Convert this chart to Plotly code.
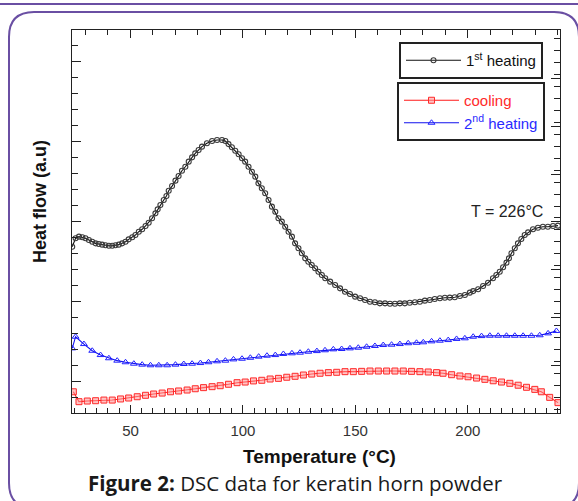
import plotly.graph_objects as go

# ---- data ----
t_heat1 = [24.1, 25.6, 27.1, 28.6, 30.0, 31.5, 33.0, 34.5, 35.9, 37.4, 38.9, 40.4, 41.9, 43.3, 44.8,
           46.3, 47.8, 49.2, 50.8, 52.2, 53.7, 55.2, 56.7, 58.1, 59.6, 61.1, 62.1, 63.3, 64.8, 66.0,
           67.0, 68.5, 70.0, 71.4, 72.9, 74.4, 75.9, 77.4, 78.8, 80.3, 81.8, 84.0, 86.3, 88.5, 90.7,
           92.2, 93.6, 95.1, 96.6, 98.1, 99.6, 101.0, 102.5, 104.0, 105.5, 106.9, 108.4, 109.9,
           111.4, 112.9, 114.4, 115.8, 117.3, 118.8, 120.3, 121.8, 123.2, 124.7, 126.2, 127.7,
           129.1, 130.6, 132.1, 133.6, 135.1, 136.6, 138.8, 141.0, 143.2, 145.4, 147.6, 149.9,
           152.1, 154.3, 156.5, 158.7, 160.9, 163.2, 165.4, 167.6, 169.8, 172.0, 174.2, 176.5,
           178.7, 180.9, 183.1, 185.3, 187.6, 189.8, 192.0, 194.2, 196.5, 198.7, 200.9, 202.4,
           204.6, 206.8, 209.0, 211.2, 212.7, 214.2, 215.7, 217.2, 218.3, 219.4, 220.9, 222.3,
           223.8, 225.3, 226.8, 229.0, 231.2, 233.4, 235.6, 237.9, 240.1]
y_heat1 = [10.42, 10.95, 11.05, 11.01, 10.95, 10.84, 10.73, 10.63, 10.59, 10.55, 10.51, 10.48, 10.48,
           10.51, 10.55, 10.63, 10.73, 10.88, 11.01, 11.15, 11.36, 11.51, 11.72, 11.92, 12.20,
           12.51, 12.76, 13.03, 13.35, 13.60, 13.93, 14.22, 14.56, 14.85, 15.18, 15.43, 15.75,
           16.02, 16.27, 16.48, 16.69, 16.90, 17.04, 17.11, 17.11, 17.04, 16.85, 16.65, 16.43,
           16.21, 15.96, 15.75, 15.43, 15.12, 14.81, 14.39, 14.08, 13.77, 13.35, 12.93, 12.61,
           12.20, 11.99, 11.67, 11.36, 11.05, 10.63, 10.32, 10.01, 9.69, 9.48, 9.27, 9.07, 8.85,
           8.65, 8.44, 8.23, 8.02, 7.81, 7.60, 7.46, 7.29, 7.19, 7.08, 6.97, 6.94, 6.87, 6.87,
           6.85, 6.85, 6.87, 6.87, 6.91, 6.94, 6.97, 7.04, 7.08, 7.14, 7.19, 7.22, 7.23, 7.25,
           7.33, 7.39, 7.54, 7.64, 7.75, 7.96, 8.16, 8.44, 8.65, 8.85, 9.13, 9.42, 9.69, 10.01,
           10.32, 10.63, 10.90, 11.15, 11.32, 11.51, 11.61, 11.67, 11.67, 11.72, 11.74]

t_cool = [24.6, 27.1, 30.8, 34.5, 38.2, 41.9, 45.6, 49.2, 53.0, 56.7, 60.3, 64.1, 67.8, 71.4, 75.2,
          78.8, 82.5, 86.3, 89.9, 93.6, 97.4, 101.0, 104.7, 108.4, 112.1, 115.8, 119.5, 123.2,
          126.9, 130.6, 134.3, 138.0, 141.7, 145.4, 149.1, 152.8, 156.5, 160.2, 163.9, 167.6,
          171.3, 175.0, 178.7, 182.4, 186.1, 189.0, 192.8, 196.5, 200.1, 203.9, 207.6, 211.3,
          215.0, 218.7, 222.4, 226.1, 229.8, 232.7, 236.4, 240.1]
y_cool = [1.33, 0.71, 0.75, 0.77, 0.81, 0.81, 0.88, 0.94, 1.02, 1.11, 1.19, 1.25, 1.33, 1.38, 1.44,
          1.52, 1.59, 1.65, 1.71, 1.80, 1.90, 1.94, 2.01, 2.05, 2.13, 2.17, 2.24, 2.30, 2.38, 2.44,
          2.49, 2.53, 2.55, 2.59, 2.59, 2.61, 2.63, 2.63, 2.63, 2.63, 2.63, 2.61, 2.59, 2.57, 2.53,
          2.49, 2.40, 2.32, 2.27, 2.19, 2.11, 2.02, 1.94, 1.86, 1.74, 1.61, 1.48, 1.33, 0.98, 0.65]

t_heat2 = [24.1, 25.6, 29.3, 33.0, 36.7, 40.4, 44.1, 47.8, 51.5, 55.2, 58.9, 62.6, 66.3, 70.0, 73.7,
           77.4, 81.1, 84.7, 88.5, 92.2, 95.8, 99.6, 103.3, 107.0, 110.7, 114.4, 118.0, 121.8,
           125.4, 129.1, 132.9, 136.5, 140.2, 143.9, 147.6, 151.3, 155.0, 158.7, 162.4, 166.1,
           169.8, 173.5, 177.2, 180.2, 183.9, 187.6, 191.3, 195.0, 198.7, 202.4, 206.1, 209.8,
           213.5, 217.2, 220.9, 224.6, 228.3, 232.0, 235.7, 239.4]
y_heat2 = [4.05, 4.78, 4.32, 3.90, 3.63, 3.43, 3.28, 3.18, 3.09, 3.03, 2.99, 2.99, 2.99, 3.03, 3.07,
           3.09, 3.13, 3.18, 3.24, 3.28, 3.36, 3.40, 3.46, 3.53, 3.59, 3.63, 3.70, 3.74, 3.78, 3.84,
           3.88, 3.93, 3.99, 4.01, 4.05, 4.09, 4.15, 4.20, 4.26, 4.28, 4.32, 4.37, 4.40, 4.43, 4.49,
           4.53, 4.57, 4.64, 4.68, 4.78, 4.82, 4.84, 4.84, 4.84, 4.84, 4.84, 4.84, 4.87, 4.99, 5.14]

x_tick_vals = [50, 100, 150, 200]
x_tick_text = ["50", "100", "150", "200"]

# ---- layout geometry ----
W, H = 578, 501
L, R, T, B = 72, 18, 30, 88
PW, PH = W - L - R, H - T - B


def px(x):
    return (x - L) / PW


def py(y):
    return (H - B - y) / PH


fig = go.Figure()

fig.add_trace(go.Scatter(
    x=t_heat1, y=y_heat1, mode="lines+markers", name="1<sup>st</sup> heating",
    line=dict(color="#111111", width=1.1),
    marker=dict(symbol="circle-open", size=5, color="#3a3a3a", line=dict(width=1.1)),
    legend="legend"))
fig.add_trace(go.Scatter(
    x=t_cool, y=y_cool, mode="lines+markers",
    name="<span style='color:#ff2a2a'>cooling</span>",
    line=dict(color="#ff1a1a", width=1.1),
    marker=dict(symbol="square", size=6, color="rgba(255,150,150,0.55)",
                line=dict(color="#ff2a2a", width=1)),
    legend="legend2"))
fig.add_trace(go.Scatter(
    x=t_heat2, y=y_heat2, mode="lines+markers",
    name="<span style='color:#2a2aff'>2<sup>nd</sup> heating</span>",
    line=dict(color="#1010ee", width=1.1),
    marker=dict(symbol="triangle-up-open", size=6, color="#2020ff", line=dict(width=1)),
    legend="legend2"))

# invisible trace to carry top / right axes
fig.add_trace(go.Scatter(x=[24], y=[0], xaxis="x2", yaxis="y2", mode="markers",
                         marker=dict(opacity=0), showlegend=False, hoverinfo="skip"))

axis_font = dict(family="Liberation Sans, Arial", size=15, color="#333333")
leg_font = dict(family="Liberation Sans, Arial", size=15, color="#111")

fig.update_layout(
    width=W, height=H,
    margin=dict(l=L, r=R, t=T, b=B),
    paper_bgcolor="white", plot_bgcolor="white",
    showlegend=True,
    xaxis=dict(range=[24, 241], tickmode="array", tickvals=x_tick_vals, ticktext=x_tick_text,
               ticks="inside", ticklen=8, tickwidth=1, tickcolor="#222",
               minor=dict(dtick=5, tick0=0, ticks="inside", ticklen=5, tickcolor="#222"),
               showline=True, linecolor="#222", linewidth=1.2, showgrid=False, zeroline=False,
               tickfont=axis_font, ticklabelstandoff=4),
    yaxis=dict(range=[0, 24], tickmode="linear", tick0=2, dtick=5,
               ticks="inside", ticklen=9, tickcolor="#222",
               minor=dict(dtick=1, tick0=0, ticks="inside", ticklen=6, tickcolor="#222"),
               showticklabels=False, showline=True, linecolor="#222", linewidth=1.2,
               showgrid=False, zeroline=False),
    xaxis2=dict(range=[24, 241], overlaying="x", side="top", tickmode="linear", tick0=0, dtick=50,
                ticks="inside", ticklen=8, tickcolor="#222",
                minor=dict(dtick=10, tick0=0, ticks="inside", ticklen=5, tickcolor="#222"),
                showticklabels=False, showline=True, linecolor="#222", linewidth=1.2,
                showgrid=False, zeroline=False),
    yaxis2=dict(range=[0, 24], overlaying="y", side="right", tickmode="linear", tick0=20.97, dtick=3,
                ticks="inside", ticklen=9, tickcolor="#222",
                minor=dict(dtick=0.75, tick0=0.22, ticks="inside", ticklen=6, tickcolor="#222"),
                showticklabels=False, showline=True, linecolor="#222", linewidth=1.2,
                showgrid=False, zeroline=False),
    legend=dict(x=px(543), y=py(42), xanchor="right", yanchor="top",
                bordercolor="#222", borderwidth=2, bgcolor="white",
                font=leg_font, itemwidth=55, tracegroupgap=0),
    legend2=dict(x=px(545), y=py(82), xanchor="right", yanchor="top",
                 bordercolor="#222", borderwidth=2, bgcolor="white",
                 font=leg_font, itemwidth=55, tracegroupgap=0),
)

# axis titles
fig.add_annotation(text="<b>Temperature (°C)</b>", x=px(319), y=py(457), xref="paper", yref="paper",
                   xanchor="center", yanchor="middle", showarrow=False,
                   font=dict(family="Liberation Sans, Arial", size=19, color="#111"))
fig.add_annotation(text="<b>Heat flow (a.u)</b>", x=px(40), y=py(202), xref="paper", yref="paper",
                   xanchor="center", yanchor="middle", textangle=-90, showarrow=False,
                   font=dict(family="Liberation Sans, Arial", size=18, color="#111"))
# temperature note
fig.add_annotation(text="T = 226°C", x=px(507), y=py(211), xref="paper", yref="paper",
                   xanchor="center", yanchor="middle", showarrow=False,
                   font=dict(family="Liberation Sans, Arial", size=16, color="#222"))
# caption
fig.add_annotation(text="<b>Figure 2:</b> DSC data for keratin horn powder", x=px(295.5), y=py(483),
                   xref="paper", yref="paper", xanchor="center", yanchor="middle", showarrow=False,
                   font=dict(family="Open Sans", size=20.5, color="#1a1a1a"))

# decorative frame (purple)
purple = "#6a4fa3"
fig.add_shape(type="line", xref="paper", yref="paper", x0=px(0), x1=px(578), y0=py(4), y1=py(4),
              line=dict(color=purple, width=2))
l, t, r, b, rad = 9, 12, 579, 508, 25
path = (f"M {px(l)},{py(t + rad)} Q {px(l)},{py(t)} {px(l + rad)},{py(t)} "
        f"L {px(r - rad)},{py(t)} Q {px(r)},{py(t)} {px(r)},{py(t + rad)} "
        f"L {px(r)},{py(b - rad)} Q {px(r)},{py(b)} {px(r - rad)},{py(b)} "
        f"L {px(l + rad)},{py(b)} Q {px(l)},{py(b)} {px(l)},{py(b - rad)} Z")
fig.add_shape(type="path", xref="paper", yref="paper", path=path,
              line=dict(color=purple, width=2), layer="below")

fig.write_html("out.html", config={"displayModeBar": False},
               post_script="document.body.style.margin='0';")
